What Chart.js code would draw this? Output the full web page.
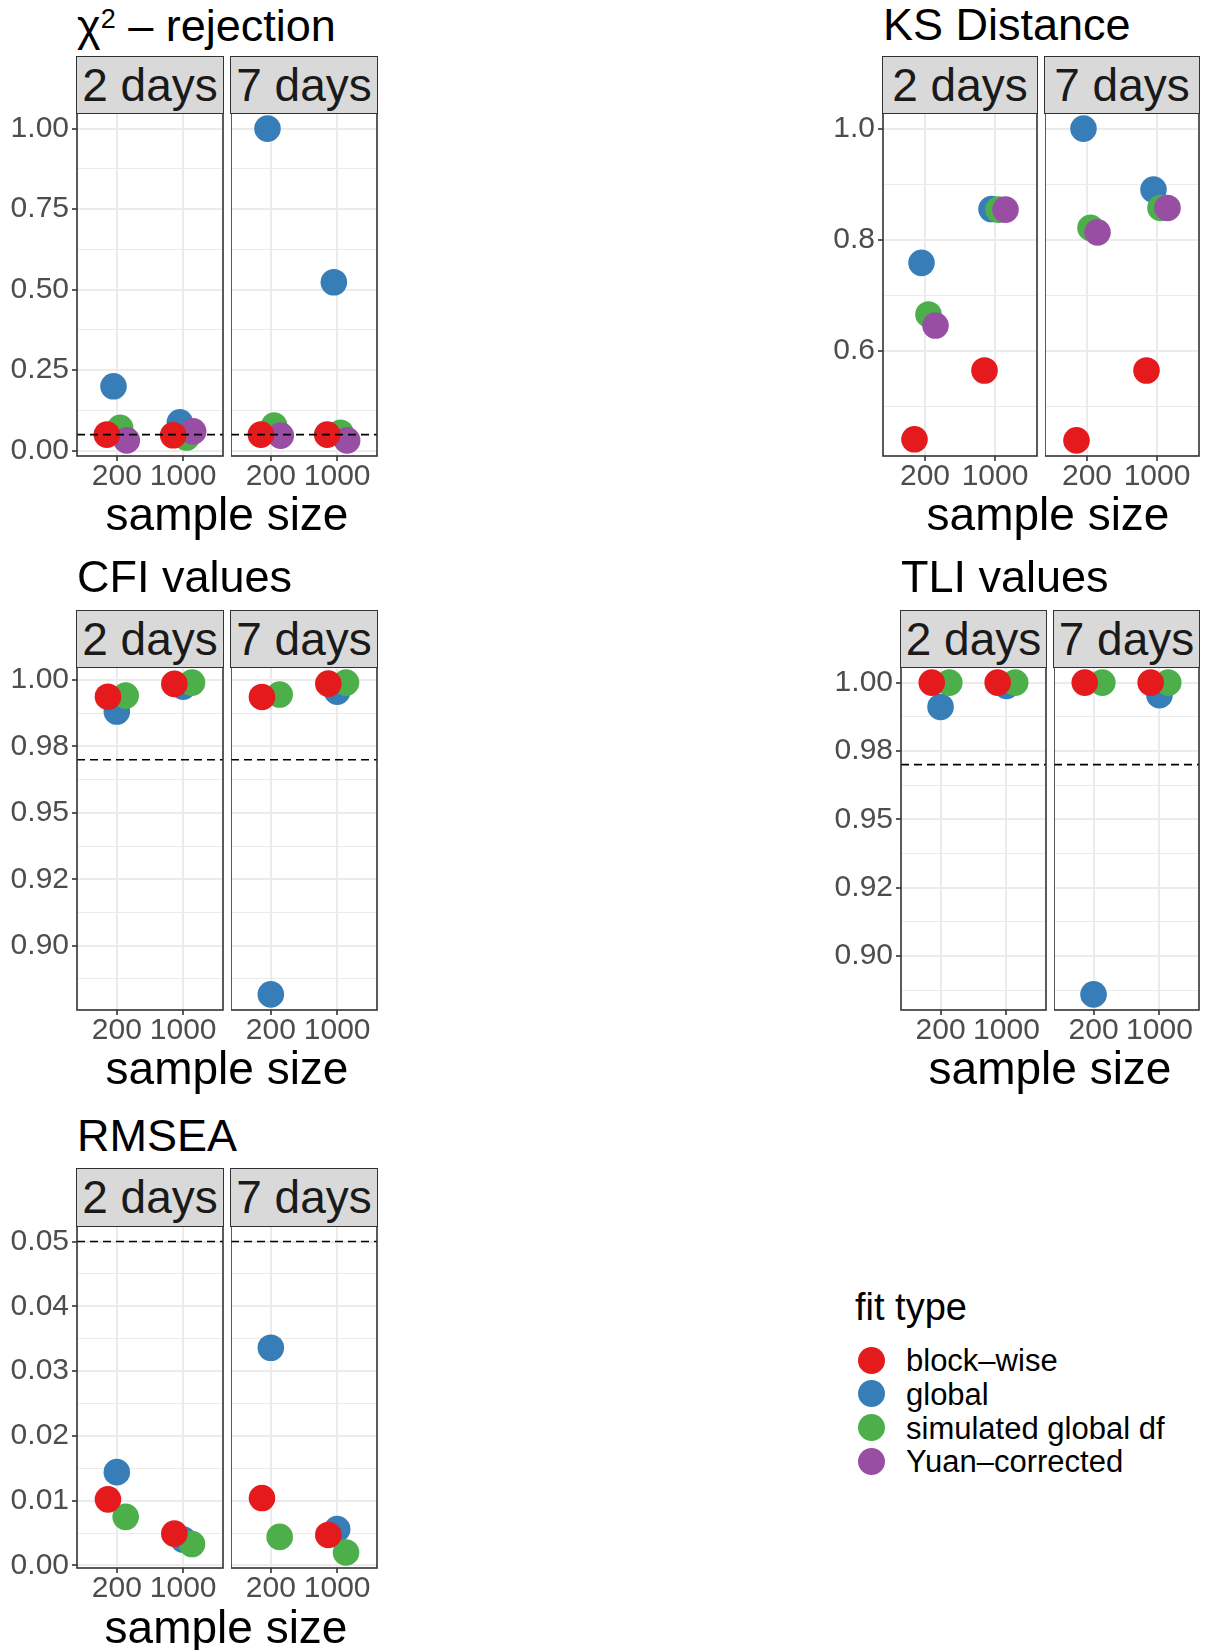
<!DOCTYPE html>
<html>
<head>
<meta charset="utf-8">
<script src="https://cdn.jsdelivr.net/npm/chart.js@4.4.0/dist/chart.umd.min.js"></script>
<style>
  body { margin: 0; background: #fff; }
  #page { position: relative; width: 1206px; height: 1650px; overflow: hidden; font-family: 'Liberation Sans', Arial, sans-serif; }
  .lbl { position: absolute; white-space: nowrap; line-height: 1; color: #000; }
  .strip { position: absolute; box-sizing: border-box; background: #D9D9D9; border: 1.6px solid #333;
           color: #1A1A1A; font-size: 46px; line-height: 1; display: flex; align-items: center; justify-content: center; white-space: nowrap; }
  .key { position: absolute; border-radius: 50%; }
  canvas { position: absolute; }
</style>
</head>
<body>
<div id="page"></div>
<script>
// facets, x categories and fit types
const sampleSizes = ['200', '1000'];
const dayFacets = ['2 days', '7 days'];
const fitTypes = ['block–wise', 'global', 'simulated global df', 'Yuan–corrected'];
const fitColors = ['#E41A1C', '#377EB8', '#4DAF4A', '#984EA3'];

// every series: [2 days n=200, 2 days n=1000, 7 days n=200, 7 days n=1000]
const chiBlock  = [0.050, 0.048, 0.050, 0.050];
const chiGlobal = [0.200, 0.088, 1.000, 0.523];
const chiSim    = [0.071, 0.041, 0.078, 0.056];
const chiYuan   = [0.032, 0.060, 0.047, 0.032];
const chiTicks = [0, 0.25, 0.5, 0.75, 1];
const chiTickLabels = ['0.00', '0.25', '0.50', '0.75', '1.00'];

const ksBlock  = [0.440, 0.564, 0.438, 0.564];
const ksGlobal = [0.758, 0.855, 1.000, 0.890];
const ksSim    = [0.665, 0.854, 0.821, 0.857];
const ksYuan   = [0.645, 0.854, 0.813, 0.857];
const ksTicks = [0.6, 0.8, 1.0];
const ksTickLabels = ['0.6', '0.8', '1.0'];

const cfiBlock  = [0.9937, 0.9985, 0.9936, 0.9986];
const cfiGlobal = [0.9881, 0.9975, 0.8817, 0.9956];
const cfiSim    = [0.9941, 0.9990, 0.9945, 0.9990];
const fitTicks = [0.9, 0.925, 0.95, 0.975, 1.0];
const fitTickLabels = ['0.90', '0.92', '0.95', '0.98', '1.00'];

const tliBlock  = [1.0000, 1.0000, 1.0000, 1.0000];
const tliGlobal = [0.9911, 0.9988, 0.8860, 0.9954];
const tliSim    = [1.0000, 1.0000, 1.0000, 1.0000];

const rmBlock  = [0.0102, 0.0049, 0.0104, 0.0047];
const rmGlobal = [0.0144, 0.0040, 0.0336, 0.0056];
const rmSim    = [0.0075, 0.0033, 0.0044, 0.0020];
const rmTicks = [0, 0.01, 0.02, 0.03, 0.04, 0.05];
const rmTickLabels = ['0.00', '0.01', '0.02', '0.03', '0.04', '0.05'];

const chiCutoff = 0.05, cfiCutoff = 0.97, tliCutoff = 0.97, rmCutoff = 0.05;

Chart.defaults.font.family = "'Liberation Sans', Arial, sans-serif";

const page = document.getElementById('page');

// layout of the five plots (page pixels)
const panels = [
  { title: 'χ<sup style="font-size:27px;vertical-align:0;position:relative;top:-13px">2</sup> – rejection',
    series: [chiBlock, chiGlobal, chiSim, chiYuan], ticks: chiTicks, labels: chiTickLabels, cutoff: chiCutoff,
    left: 77, fw: 146, stripTop: 57, top: 113, bottom: 456, titleBase: 41.5, xtCx: 227, xtBase: 530 },
  { title: 'KS Distance',
    series: [ksBlock, ksGlobal, ksSim, ksYuan], ticks: ksTicks, labels: ksTickLabels, cutoff: null,
    left: 883, fw: 154, stripTop: 57, top: 113, bottom: 456, titleBase: 40, xtCx: 1048, xtBase: 530 },
  { title: 'CFI values',
    series: [cfiBlock, cfiGlobal, cfiSim], ticks: fitTicks, labels: fitTickLabels, cutoff: cfiCutoff,
    left: 77, fw: 146, stripTop: 611, top: 667, bottom: 1010, titleBase: 592, xtCx: 227, xtBase: 1084 },
  { title: 'TLI values',
    series: [tliBlock, tliGlobal, tliSim], ticks: fitTicks, labels: fitTickLabels, cutoff: tliCutoff,
    left: 901, fw: 145, stripTop: 611, top: 667, bottom: 1010, titleBase: 592, xtCx: 1050, xtBase: 1084 },
  { title: 'RMSEA',
    series: [rmBlock, rmGlobal, rmSim], ticks: rmTicks, labels: rmTickLabels, cutoff: rmCutoff,
    left: 77, fw: 146, stripTop: 1169, top: 1226, bottom: 1568, titleBase: 1151, xtCx: 226, xtBase: 1643 }
];

// red on top, then purple, green, blue
const drawOrder = [1, 4, 3, 2];

function text(html, x, baseline, size, center) {
  const d = document.createElement('div');
  d.className = 'lbl';
  d.innerHTML = html;
  d.style.fontSize = size + 'px';
  d.style.left = x + 'px';
  d.style.top = (baseline - 0.8465 * size) + 'px';
  if (center) d.style.transform = 'translateX(-50%)';
  page.appendChild(d);
}

const panelBox = {
  id: 'panelBox',
  afterDraw(chart) {
    const { ctx, chartArea: a } = chart;
    ctx.save();
    ctx.strokeStyle = '#333333';
    ctx.lineWidth = 1.6;
    ctx.strokeRect(a.left, a.top, a.right - a.left, a.bottom - a.top);
    ctx.restore();
  }
};

function yRange(p) {
  const vals = p.series.flat();
  if (p.cutoff !== null) vals.push(p.cutoff);
  const lo = Math.min(...vals), hi = Math.max(...vals);
  const pad = (hi - lo) * 0.05;
  return [lo - pad, hi + pad];
}

function noOverflow(sc) {
  sc.paddingTop = 0; sc.paddingBottom = 0; sc.paddingLeft = 0; sc.paddingRight = 0;
}

function facetChart(p, f, lo, hi) {
  const isLeft = f === 0;
  const padL = isLeft ? 77 : 0, padT = 3, padR = 3, padB = 40;
  const fl = p.left + f * (p.fw + 8);
  const w = p.fw + padL + padR, h = (p.bottom - p.top) + padT + padB;
  const canvas = document.createElement('canvas');
  canvas.width = w; canvas.height = h;
  canvas.style.left = (fl - padL) + 'px';
  canvas.style.top = (p.top - padT) + 'px';
  canvas.style.width = w + 'px';
  canvas.style.height = h + 'px';
  page.appendChild(canvas);

  // strip on top of the facet
  const s = document.createElement('div');
  s.className = 'strip';
  s.textContent = dayFacets[f];
  s.style.left = (fl - 0.8) + 'px';
  s.style.top = (p.stripTop - 0.8) + 'px';
  s.style.width = (p.fw + 1.6) + 'px';
  s.style.height = (p.top - p.stripTop + 1.6) + 'px';
  page.appendChild(s);

  const n = p.series.length;
  const datasets = p.series.map((vals, k) => ({
    label: fitTypes[k],
    data: sampleSizes.map((_, j) => ({ x: j + 1 + (k - (n - 1) / 2) * 0.4 / n, y: vals[f * 2 + j] })),
    backgroundColor: fitColors[k],
    pointRadius: 13.3,
    pointHoverRadius: 13.3,
    pointBorderWidth: 0,
    order: drawOrder[k]
  }));
  if (p.cutoff !== null) {
    datasets.push({
      label: 'cutoff',
      data: [{ x: 0.4, y: p.cutoff }, { x: 2.6, y: p.cutoff }],
      showLine: true,
      borderColor: '#000',
      borderWidth: 1.6,
      borderDash: [8, 5],
      pointRadius: 0,
      order: 0
    });
  }

  // major breaks plus ggplot-style minor breaks halfway between them
  const step = p.ticks[1] - p.ticks[0];
  const minors = [];
  for (let i = 0; i <= p.ticks.length; i++) {
    const m = p.ticks[0] + (i - 0.5) * step;
    if (m > lo && m < hi) minors.push(m);
  }
  const allTicks = p.ticks.map(v => ({ value: v, minor: false }))
    .concat(minors.map(v => ({ value: v, minor: true })))
    .sort((a, b) => a.value - b.value);

  const tickFont = { size: 30, lineHeight: 1 };

  new Chart(canvas, {
    type: 'scatter',
    data: { datasets },
    options: {
      responsive: false,
      animation: false,
      layout: { autoPadding: false, padding: { left: 0, top: padT, right: padR, bottom: 0 } },
      plugins: { legend: { display: false }, tooltip: { enabled: false } },
      scales: {
        x: {
          type: 'linear', min: 0.4, max: 2.6,
          afterBuildTicks: sc => { sc.ticks = sampleSizes.map((_, j) => ({ value: j + 1 })); },
          afterFit: sc => { sc.height = padB; noOverflow(sc); },
          ticks: { callback: v => sampleSizes[Math.round(v) - 1], font: tickFont, color: '#4D4D4D', padding: 1, autoSkip: false, maxRotation: 0 },
          grid: { color: '#EBEBEB', lineWidth: 2, drawTicks: true, tickLength: 5, tickColor: '#333333', tickWidth: 1.6 },
          border: { display: false }
        },
        y: {
          type: 'linear', min: lo, max: hi,
          afterBuildTicks: sc => { sc.ticks = allTicks.map(t => ({ value: t.value, minor: t.minor })); },
          afterFit: sc => { sc.width = padL; noOverflow(sc); },
          ticks: {
            display: isLeft,
            autoSkip: false,
            font: tickFont, color: '#4D4D4D', padding: 3,
            callback: (v, i, ts) => ts[i].minor ? '' : p.labels[p.ticks.findIndex(t => Math.abs(t - v) < 1e-9)]
          },
          grid: {
            color: '#EBEBEB',
            lineWidth: ctx => (ctx.tick && ctx.tick.minor) ? 1 : 2,
            drawTicks: isLeft, tickLength: 5, tickWidth: 1.6,
            tickColor: ctx => (ctx.tick && ctx.tick.minor) ? 'rgba(0,0,0,0)' : '#333333'
          },
          border: { display: false }
        }
      }
    },
    plugins: [panelBox]
  });
}

panels.forEach(p => {
  const [lo, hi] = yRange(p);
  text(p.title, p.left, p.titleBase, 45, false);
  dayFacets.forEach((_, f) => facetChart(p, f, lo, hi));
  text('sample size', p.xtCx, p.xtBase, 46, true);
});

// legend
text('fit type', 855, 1320, 38, false);
fitTypes.forEach((name, i) => {
  const cy = 1360 + i * 33.7;
  const k = document.createElement('div');
  k.className = 'key';
  k.style.background = fitColors[i];
  k.style.left = (871.7 - 13.5) + 'px';
  k.style.top = (cy - 13.5) + 'px';
  k.style.width = '27px';
  k.style.height = '27px';
  page.appendChild(k);
  text(name, 906, cy + 11.5, 31, false);
});
</script>
</body>
</html>
